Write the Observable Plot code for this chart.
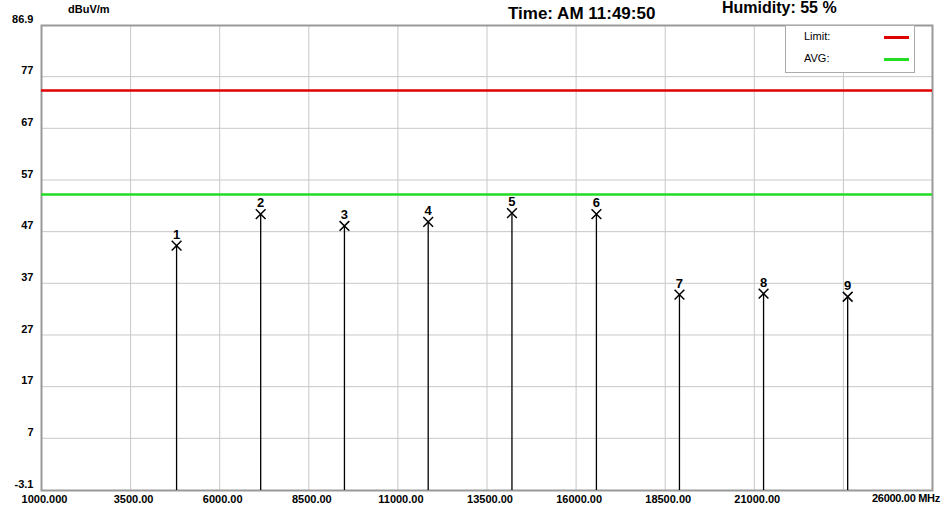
<!DOCTYPE html>
<html><head><meta charset="utf-8">
<script src="https://cdn.jsdelivr.net/npm/d3@7"></script>
<script src="https://cdn.jsdelivr.net/npm/@observablehq/plot@0.6"></script>
<style>
body{margin:0;background:#fff;font-family:"Liberation Sans",Arial,sans-serif;}
#wrap{position:relative;width:950px;height:512px;}
.t{position:absolute;white-space:nowrap;color:#000;}
</style></head>
<body><div id="wrap"></div>
<script>
const markers = [1,2,3,4,5,6,7,8,9];
const freqs = [4790, 7150, 9500, 11850, 14200, 16570, 18900, 21260, 23620];
const levels = [44.3, 50.4, 48.1, 48.9, 50.6, 50.4, 34.8, 35.0, 34.4];
const limitLine = 74.3;
const avgLine = 54.2;
const xTicks = [1000,3500,6000,8500,11000,13500,16000,18500,21000,23500,26000];
const xLabels = ["1000.000","3500.00","6000.00","8500.00","11000.00","13500.00","16000.00","18500.00","21000.00","",""];
const yTicks = [-3.1,7,17,27,37,47,57,67,77,86.9];

const data = markers.map((m,i) => ({m, f: freqs[i], v: levels[i]}));

const chart = Plot.plot({
  width: 950, height: 512,
  marginLeft: 41, marginRight: 18, marginTop: 25, marginBottom: 22,
  style: {fontFamily: '"Liberation Sans",Arial', fontSize: "11px", fontWeight: "bold", color: "#000"},
  x: {domain: [1000, 26000], label: null},
  y: {domain: [-3.1, 86.9], label: null},
  marks: [
    Plot.gridX(xTicks, {stroke: "#c8c8c8", strokeOpacity: 1}),
    Plot.gridY(yTicks, {stroke: "#c8c8c8", strokeOpacity: 1}),
    Plot.axisX(xTicks, {tickSize: 0, tickPadding: 5, tickFormat: d => xLabels[xTicks.indexOf(d)], dx: 3}),
    Plot.axisY(yTicks, {tickSize: 0, tickPadding: 8, tickFormat: d => String(d), dy: -6}),
    Plot.frame({stroke: "#999", strokeWidth: 2}),
    Plot.ruleY([limitLine], {stroke: "#e00000", strokeWidth: 2.5}),
    Plot.ruleY([avgLine], {stroke: "#22dd22", strokeWidth: 2.5}),
    Plot.ruleX(data, {x: "f", y1: -3.1, y2: "v", stroke: "#000", strokeWidth: 1.3}),
    Plot.dot(data, {x: "f", y: "v", symbol: "times", r: 4.5, stroke: "#000", strokeWidth: 1.5}),
    Plot.text(data, {x: "f", y: "v", text: "m", dy: -11, fontSize: 13, fontWeight: "bold"})
  ]
});
const wrap = document.getElementById("wrap");
wrap.appendChild(chart);
const add = (txt, css) => { const d = document.createElement("div"); d.className = "t"; d.textContent = txt; d.style.cssText = css; wrap.appendChild(d); };
add("dBuV/m", "left:68px;top:3px;font-size:11px;font-weight:bold;");
add("Time: AM 11:49:50", "left:508px;top:4px;font-size:17px;font-weight:bold;");
add("Humidity:   55 %", "left:722px;top:-1px;font-size:16px;font-weight:bold;");
add("26000.00 MHz", "left:872px;top:492px;font-size:11px;font-weight:bold;letter-spacing:-0.3px;");
const leg = document.createElement("div");
leg.style.cssText = "position:absolute;left:785px;top:25px;width:128px;height:46px;border:1px solid #aaa;background:#fff;font-size:11px;";
leg.innerHTML = '<div style="position:absolute;left:18px;top:4px">Limit:</div><div style="position:absolute;left:98px;top:10px;width:25px;height:3px;background:#e00000"></div>'+
  '<div style="position:absolute;left:18px;top:26px">AVG:</div><div style="position:absolute;left:98px;top:32px;width:25px;height:3px;background:#22dd22"></div>';
wrap.appendChild(leg);
</script></body></html>
